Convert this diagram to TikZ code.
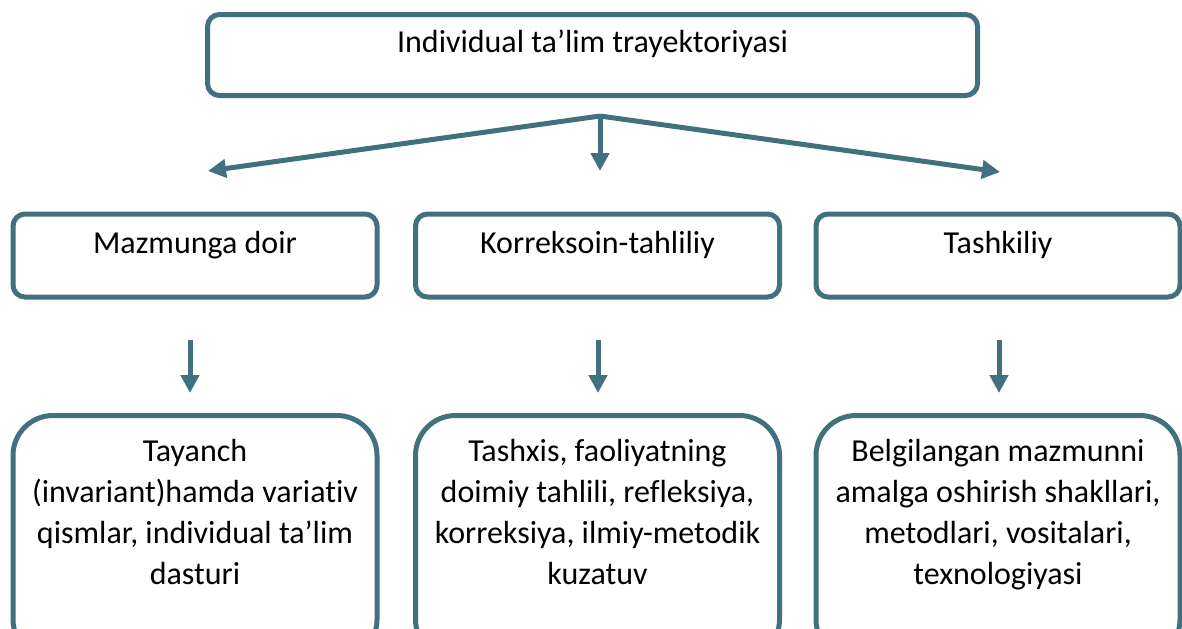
\documentclass[tikz,border=0pt]{standalone}
\usepackage{fontspec}
\setmainfont{Carlito}[Ligatures={NoCommon}]
\usetikzlibrary{arrows.meta}
\definecolor{boxblue}{RGB}{65,112,128}
\newcommand{\boxtext}[1]{\parbox[c][98pt][t]{182pt}{\centering #1}}

\begin{document}
\begin{tikzpicture}[x=0.5pt,y=-0.5pt,
  every node/.style={font=\fontsize{16pt}{20.5pt}\selectfont, outer sep=0pt},
  box/.style={draw=boxblue, line width=2.5pt, rounded corners=6pt, minimum width=182pt, minimum height=41.5pt, text height=11pt, text depth=13.5pt},
  bigbox/.style={draw=boxblue, line width=2.5pt, rounded corners=20pt, inner xsep=0pt, inner ysep=12pt, anchor=north},
  arr/.style={boxblue, line width=2.5pt, -{Triangle[width=9pt,length=9pt]}}]
\useasboundingbox (0,0) rectangle (1182,628);
\clip (0,0) rectangle (1182,628);

\node[box, minimum width=385pt, minimum height=40.5pt] (traj) at (592.5,55) {Individual ta’lim trayektoriyasi};

\node[box] (mazmun) at (195,255.5) {Mazmunga doir};
\node[box] (korrek) at (597.5,255.5) {Korreksoin-tahliliy};
\node[box] (tashkil) at (998,255.5) {Tashkiliy};

\node[bigbox] (tayanch) at (195,415.5) {\boxtext{Tayanch\\(invariant)hamda variativ\\qismlar, individual ta’lim\\dasturi}};
\node[bigbox] (tashxis) at (597.5,415.5) {\boxtext{Tashxis, faoliyatning\\doimiy tahlili, refleksiya,\\korreksiya, ilmiy-metodik\\kuzatuv}};
\node[bigbox] (belgi) at (998,415.5) {\boxtext{Belgilangan mazmunni\\amalga oshirish shakllari,\\metodlari, vositalari,\\texnologiyasi}};

\coordinate (fork) at (600,116);
\coordinate (tipL) at (208,171);
\coordinate (tipM) at (600,171);
\coordinate (tipR) at (1000,172);
\draw[arr] (fork) -- (tipL);
\draw[arr] (fork) -- (tipM);
\draw[arr] (fork) -- (tipR);

\foreach \x/\n in {190/a,598/b,999/c} {
  \coordinate (up\n) at (\x,340);
  \coordinate (dn\n) at (\x,393);
  \draw[arr] (up\n) -- (dn\n);
}

\end{tikzpicture}
\end{document}
